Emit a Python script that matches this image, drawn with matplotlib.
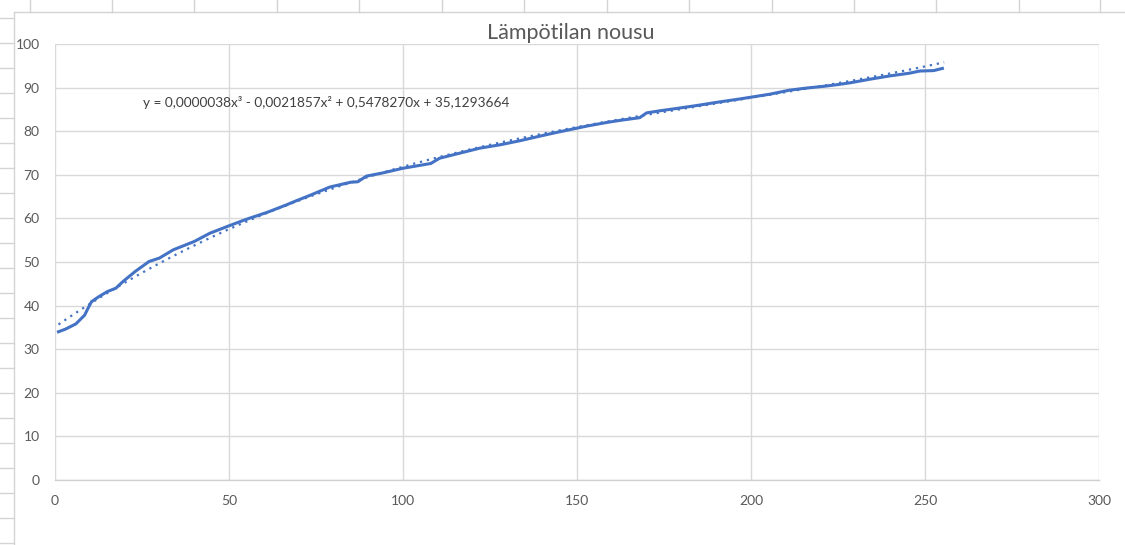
import numpy as np
import matplotlib
matplotlib.use("Agg")
import matplotlib.pyplot as plt
from matplotlib.lines import Line2D

plt.rcParams['font.family'] = ['Lato', 'DejaVu Sans']

# Measured temperature (°C) against elapsed time
time_points = [1, 3, 6, 8.5, 9.5, 10.5, 12.5, 15, 17.5, 19.5, 23, 27, 30, 34, 40,
               44.5, 50, 55, 61, 66.5, 69.5, 73, 79, 85, 87, 89.5, 94, 100, 108,
               110.5, 116, 122, 128, 133.5, 139.5, 144, 150, 153, 158.5, 162.5,
               168, 170, 174, 178.5, 184.5, 190, 196, 200, 205.5, 211, 216, 221,
               225, 228.5, 234, 240, 245.5, 248.5, 252.5, 255]
temperature = [34.0, 34.6, 35.8, 37.8, 39.4, 40.9, 42.0, 43.2, 44.0, 45.5, 47.8,
               50.1, 50.9, 52.8, 54.7, 56.6, 58.3, 59.8, 61.4, 63.1, 64.1, 65.2,
               67.2, 68.3, 68.4, 69.7, 70.4, 71.5, 72.6, 73.8, 74.9, 76.1, 76.9,
               77.8, 78.9, 79.7, 80.7, 81.2, 82.0, 82.5, 83.1, 84.2, 84.7, 85.2,
               85.9, 86.6, 87.3, 87.8, 88.5, 89.4, 89.9, 90.3, 90.7, 91.1, 91.9,
               92.7, 93.3, 93.8, 93.9, 94.4]

# Cubic trendline coefficients (highest power first)
trend_coefs = [0.0000038, -0.0021857, 0.5478270, 35.1293664]
trend_range = [1, 255.5]

x_ticks = [0, 50, 100, 150, 200, 250, 300]
y_ticks = [0, 10, 20, 30, 40, 50, 60, 70, 80, 90, 100]

title_text = "Lämpötilan nousu"
equation_text = "y = 0,0000038x³ - 0,0021857x² + 0,5478270x + 35,1293664"

W, H = 1125, 545
fig = plt.figure(figsize=(W / 100, H / 100), dpi=100)
fig.patch.set_facecolor("white")

ax = fig.add_axes([55 / W, 1 - 480 / H, (1099 - 55) / W, (480 - 44) / H])
ax.set_xlim(0, 300)
ax.set_ylim(0, 100)
ax.set_xticks(x_ticks)
ax.set_yticks(y_ticks)
ax.grid(True, color="#d9d9d9", lw=1.0)
ax.set_axisbelow(True)
for side in ["top", "right", "left"]:
    ax.spines[side].set_visible(False)
ax.spines["bottom"].set_color("#d0d0d0")
ax.spines["bottom"].set_linewidth(1.0)
ax.tick_params(length=0, colors="#595959", labelsize=10)
ax.tick_params(axis="y", pad=11)
ax.tick_params(axis="x", pad=11)

blue = "#4472C4"
ax.plot(time_points, temperature, color=blue, lw=2.2, solid_joinstyle="round",
        zorder=3)

tx = np.linspace(trend_range[0], trend_range[1], 400)
ax.plot(tx, np.polyval(trend_coefs, tx), color=blue, lw=1.6,
        linestyle=(0, (1, 2.2)), zorder=4)

ax.text(25.3, 86.5, equation_text, fontsize=9.8, color="#404040", va="center",
        ha="left")

fig.text(571 / W, 1 - 33 / H, title_text, fontsize=15.5, color="#595959",
         ha="center", va="center")

# Worksheet cell borders around the chart object
grid_col = "#d4d4d4"
def px_line(x0, y0, x1, y1):
    fig.add_artist(Line2D([x0 / W, x1 / W], [1 - y0 / H, 1 - y1 / H],
                          color=grid_col, lw=1.0, transform=fig.transFigure))

px_line(14, 12, 14, H)
px_line(14, 12, W, 12)
for ry in range(18, H, 25):
    px_line(0, ry, 14, ry)
for cx in [30, 112, 194, 277, 359, 442, 524, 607, 689, 772, 854, 936, 1019, 1100]:
    px_line(cx, 0, cx, 12)

fig.savefig("out.png", dpi=100, facecolor="white")
